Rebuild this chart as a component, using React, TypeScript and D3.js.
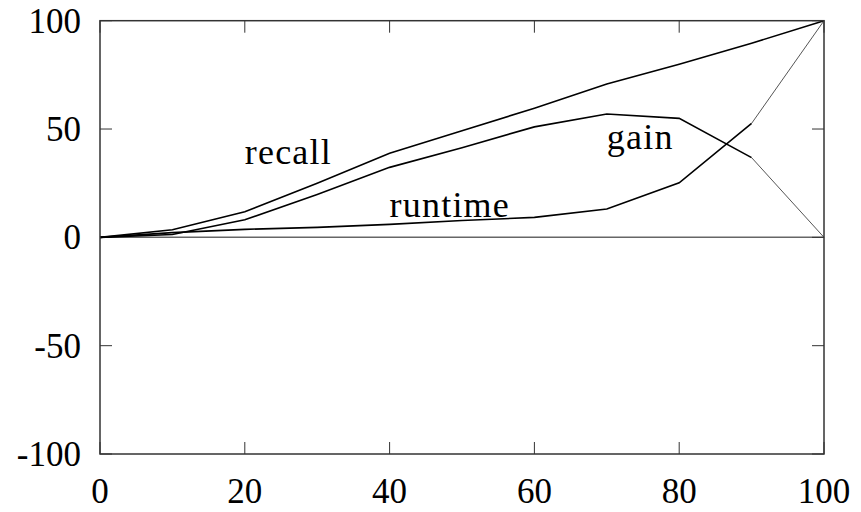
import React from 'react';
import * as d3 from 'd3';

// x positions (percent)
const xs = [0, 10, 20, 30, 40, 50, 60, 70, 80, 90, 100];
const recall = [0, 3.5, 11.8, 25, 38.8, 49.2, 59.6, 70.8, 79.9, 89.6, 100];
const runtime = [0, 2.2, 3.7, 4.6, 6.0, 7.8, 9.2, 13.1, 25.2, 52.6, 100];
const gain = [0, 1.3, 8.1, 19.8, 32.3, 41.4, 51, 56.9, 54.9, 36.8, 0];

const xTicks = [0, 20, 40, 60, 80, 100];
const yTicks = [-100, -50, 0, 50, 100];

// curve labels: [text, x, y] in data units
const labelText = ['recall', 'runtime', 'gain'];
const labelX = [20, 40, 70];
const labelY = [34, 9.5, 41];

const W = 861;
const H = 512;
const m = { left: 100, right: 37, top: 20.7, bottom: 58 };
const font = '"Liberation Serif", "Times New Roman", serif';

export default function App() {
  const x = d3.scaleLinear().domain([0, 100]).range([m.left, W - m.right]);
  const y = d3.scaleLinear().domain([-100, 100]).range([H - m.bottom, m.top]);

  const line = d3
    .line<number>()
    .x((d, i) => x(xs[i]))
    .y((d) => y(d));

  // last segment of runtime / gain is drawn thin and grey
  const head = (arr: number[]) => line(arr.slice(0, 10)) || '';
  const tail = (arr: number[]) =>
    d3.line<number>().x((d, i) => x(xs[9 + i])).y((d) => y(d))(arr.slice(9)) || '';

  const tick = 12;

  return (
    <svg
      width={W}
      height={H}
      style={{ position: 'absolute', left: 0, top: 0, background: '#fff' }}
      fontFamily={font}
    >
      {/* zero line */}
      <line x1={x(0)} x2={x(100)} y1={y(0)} y2={y(0)} stroke="#666" strokeWidth={1.5} />

      {/* ticks */}
      {xTicks.map((t) => (
        <g key={'xt' + t}>
          <line x1={x(t)} x2={x(t)} y1={y(-100)} y2={y(-100) - tick} stroke="#333" strokeWidth={1} />
          <line x1={x(t)} x2={x(t)} y1={y(100)} y2={y(100) + tick} stroke="#333" strokeWidth={1} />
          <text x={x(t)} y={503} textAnchor="middle" fontSize={35} fill="#000">
            {t}
          </text>
        </g>
      ))}
      {yTicks.map((t) => (
        <g key={'yt' + t}>
          <line x1={x(0)} x2={x(0) + tick} y1={y(t)} y2={y(t)} stroke="#333" strokeWidth={1} />
          <line x1={x(100)} x2={x(100) - tick} y1={y(t)} y2={y(t)} stroke="#333" strokeWidth={1} />
          <text x={81} y={y(t) + 12} textAnchor="end" fontSize={35} fill="#000">
            {t}
          </text>
        </g>
      ))}

      {/* series */}
      <path d={line(recall) || ''} fill="none" stroke="#000" strokeWidth={1.6} />
      <path d={head(gain)} fill="none" stroke="#000" strokeWidth={1.6} />
      <path d={head(runtime)} fill="none" stroke="#000" strokeWidth={1.6} />
      <path d={tail(gain)} fill="none" stroke="#555" strokeWidth={1} />
      <path d={tail(runtime)} fill="none" stroke="#555" strokeWidth={1} />

      {labelText.map((s, i) => (
        <text
          key={s}
          x={x(labelX[i])}
          y={y(labelY[i])}
          fontSize={36}
          letterSpacing={1.2}
          fill="#000"
        >
          {s}
        </text>
      ))}

      {/* frame */}
      <rect
        x={x(0)}
        y={y(100)}
        width={x(100) - x(0)}
        height={y(-100) - y(100)}
        fill="none"
        stroke="#333"
        strokeWidth={1.5}
      />
    </svg>
  );
}
